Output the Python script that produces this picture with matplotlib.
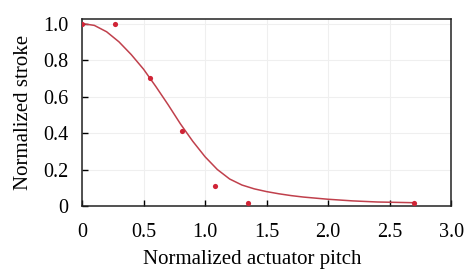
import matplotlib
matplotlib.use("Agg")
import matplotlib.pyplot as plt

# Measured data points
pitch_pts = [0.0, 0.27, 0.55, 0.81, 1.08, 1.35, 2.70]
stroke_pts = [1.0, 1.0, 0.70, 0.41, 0.11, 0.015, 0.015]

# Fitted curve
pitch_fit = [0.0, 0.1, 0.2, 0.3, 0.4, 0.5, 0.6, 0.7, 0.8, 0.9, 1.0, 1.1,
             1.2, 1.3, 1.4, 1.5, 1.6, 1.7, 1.8, 2.0, 2.2, 2.4, 2.7]
stroke_fit = [1.0, 0.99, 0.955, 0.90, 0.83, 0.75, 0.655, 0.555, 0.45, 0.355,
              0.27, 0.20, 0.148, 0.115, 0.094, 0.079, 0.067, 0.057, 0.049,
              0.037, 0.028, 0.022, 0.018]

x_ticks = [0, 0.5, 1.0, 1.5, 2.0, 2.5, 3.0]
x_labels = ["0", "0.5", "1.0", "1.5", "2.0", "2.5", "3.0"]
y_ticks = [0, 0.2, 0.4, 0.6, 0.8, 1.0]
y_labels = ["0", "0.2", "0.4", "0.6", "0.8", "1.0"]

plt.rcParams['font.family'] = ['Liberation Serif', 'DejaVu Serif']

fig = plt.figure(figsize=(4.66, 2.73), dpi=100)
ax = fig.add_axes([0.176, 0.2454, 0.792, 0.685])

ax.grid(True, color='#efefef', linewidth=0.8, zorder=0)
ax.plot(pitch_fit, stroke_fit, color='#c0404c', linewidth=1.1, zorder=2)
ax.scatter(pitch_pts, stroke_pts, s=14, color='#d02436', zorder=3, linewidths=0)

ax.set_xlim(0, 3.0)
ax.set_ylim(0, 1.025)
ax.set_xticks(x_ticks)
ax.set_xticklabels(x_labels)
ax.set_yticks(y_ticks)
ax.set_yticklabels(y_labels)

ax.tick_params(direction='in', length=4, width=1, labelsize=14.5, colors='black')
ax.tick_params(axis='x', pad=12)
ax.tick_params(axis='y', pad=10)

for s in ax.spines.values():
    s.set_linewidth(1.1)
    s.set_color('#222222')

ax.set_xlabel("Normalized actuator pitch", fontsize=15, labelpad=6)
ax.xaxis.label.set_x(0.46)
ax.set_ylabel("Normalized stroke", fontsize=15, labelpad=7)

fig.savefig("out.png", dpi=100)
